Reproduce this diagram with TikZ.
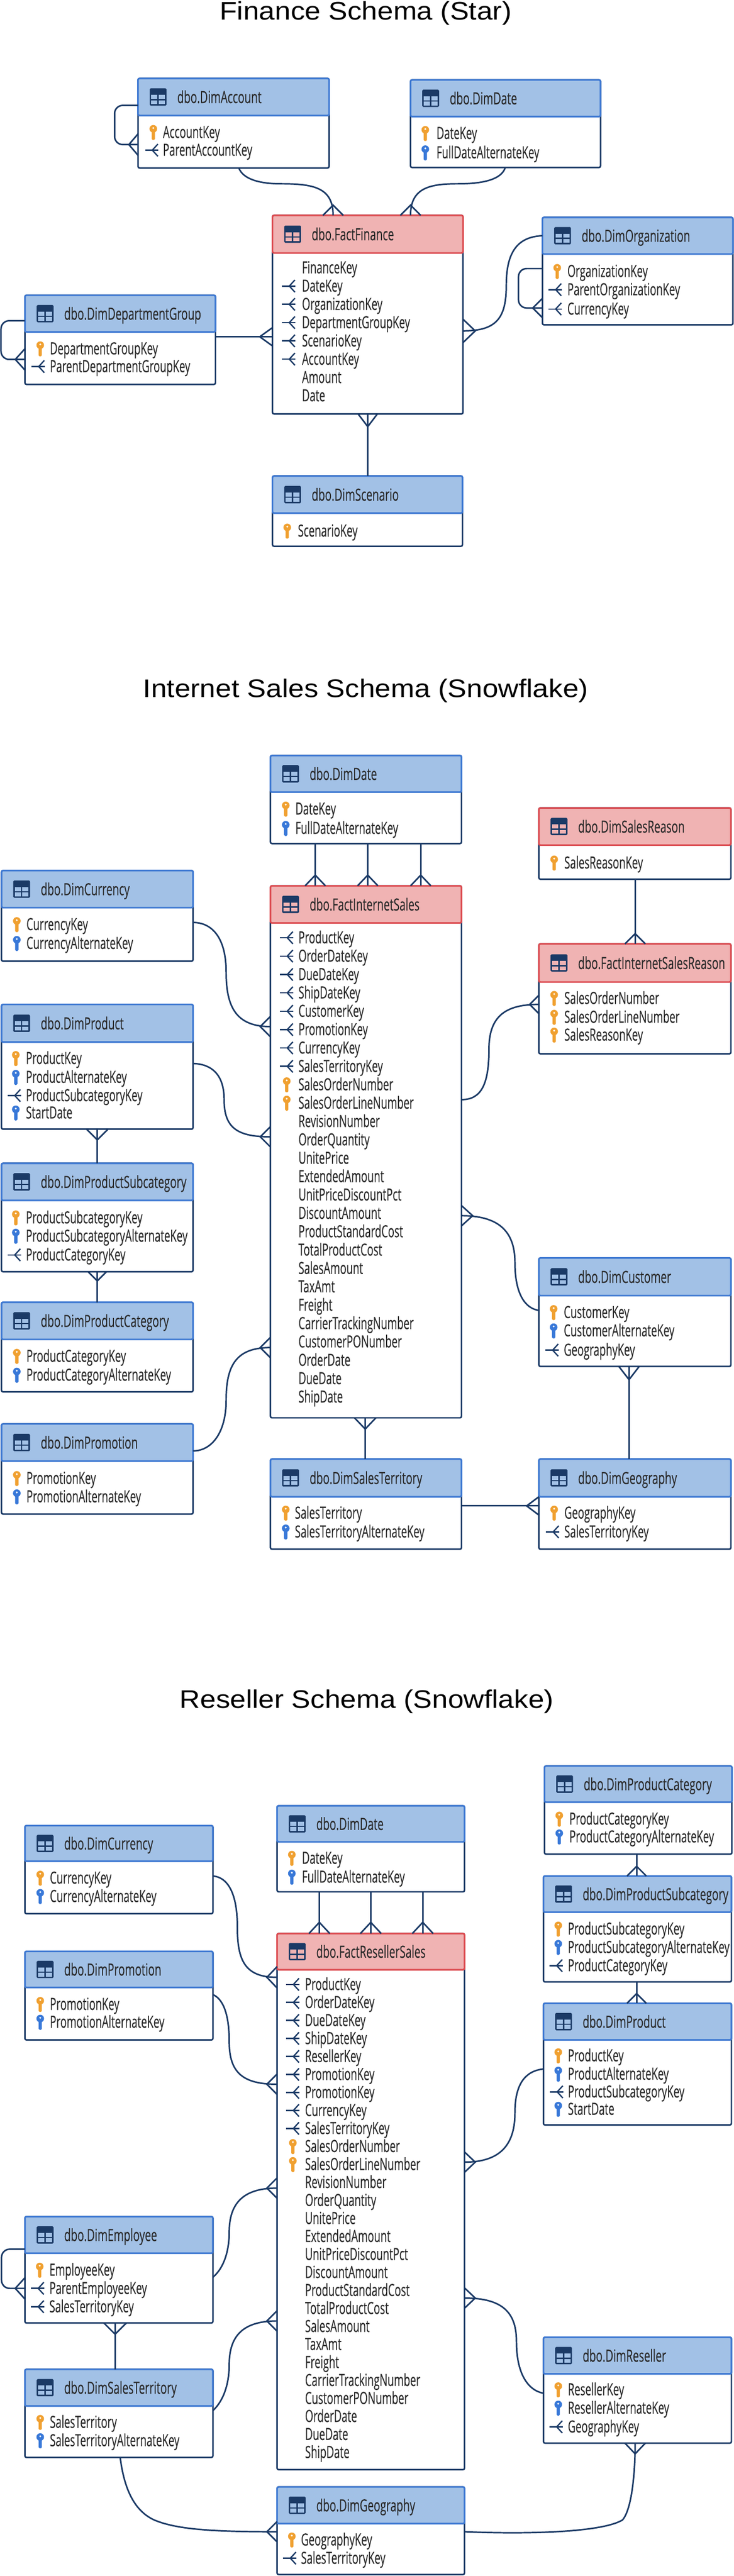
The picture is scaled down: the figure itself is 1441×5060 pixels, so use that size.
\documentclass[tikz,border=0pt]{standalone}
\usepackage{fontspec}
\setmainfont{Open Sans}
\newfontfamily\rowfont[FakeStretch=0.625,FakeBold=0.15]{Open Sans}
\newfontfamily\hdfont[FakeStretch=0.645,FakeBold=0.15]{Open Sans}
\newfontfamily\ttlfont[FakeStretch=1.115]{Liberation Sans}
\definecolor{navy}{HTML}{1B3A66}
\definecolor{hfB}{HTML}{A2C1E6}
\definecolor{hlB}{HTML}{3D78D2}
\definecolor{hfR}{HTML}{F0B3B3}
\definecolor{hlR}{HTML}{DC4B50}
\definecolor{keyO}{HTML}{F0A030}
\definecolor{keyB}{HTML}{3878D8}
\definecolor{txt}{HTML}{2A2A2A}
\tikzset{
 tbody/.style={draw=navy,line width=1.5pt,fill=white,rounded corners=1.5pt,anchor=north west,inner sep=0pt,outer sep=0pt},
 theadB/.style={draw=hlB,fill=hfB,line width=1.6pt,rounded corners=1.5pt,anchor=north west,inner sep=0pt,outer sep=0pt},
 theadR/.style={draw=hlR,fill=hfR,line width=1.6pt,rounded corners=1.5pt,anchor=north west,inner sep=0pt,outer sep=0pt},
 ttext/.style={anchor=base west,inner sep=0pt,outer sep=0pt,font=\hdfont\fontsize{16.5}{18}\selectfont,text=txt},
 rowtext/.style={anchor=base west,inner sep=0pt,outer sep=0pt,font=\rowfont\fontsize{16.5}{18}\selectfont,text=txt},
 ttl/.style={anchor=base,inner sep=0pt,font=\ttlfont\fontsize{25}{28}\selectfont,text=black},
 conn/.style={draw=navy,line width=1.5pt},
 fkline/.style={draw=navy,line width=1.3pt},
}
\newcounter{rw}
% name, colour, x0, y0, x1, headerbottom, y1, title
\newcommand\dbt[8]{%
 \pgfmathsetmacro\mytw{(#5-#3)*0.5}\pgfmathsetmacro\myth{(#7-#4)*0.5}\pgfmathsetmacro\myhb{(#6-#4)*0.5}%
 \pgfmathsetmacro\ymid{(#4+#6)/2}%
 \node[tbody,minimum width=\mytw pt,minimum height=\myth pt] (#1) at (#3,#4) {};
 \node[thead#2,minimum width=\mytw pt,minimum height=\myhb pt] (#1h) at (#3,#4) {};
 \node[ttext] (#1t) at ({#3+77},{\ymid+12}) {#8};
 \fill[navy,rounded corners=1pt] ({#3+23},{\ymid-17}) rectangle ({#3+56},{\ymid+17});
 \fill[hf#2] ({#3+26},{\ymid-4}) rectangle ({#3+38},{\ymid+4});
 \fill[hf#2] ({#3+41},{\ymid-4}) rectangle ({#3+53},{\ymid+4});
 \fill[hf#2] ({#3+26},{\ymid+6.5}) rectangle ({#3+38},{\ymid+14});
 \fill[hf#2] ({#3+41},{\ymid+6.5}) rectangle ({#3+53},{\ymid+14});
}
\newcommand\keyshape[3]{%
 \fill[#3] (#1,{#2-7}) circle (7.5);
 \fill[#3,rounded corners=1pt] ({#1-3.2},{#2-7}) rectangle ({#1+3.2},{#2+15});
 \fill[white] (#1,{#2-8.5}) circle (2);
}
\newcommand\iconk[2]{\keyshape{#1}{#2}{keyO}}
\newcommand\iconb[2]{\keyshape{#1}{#2}{keyB}}
\newcommand\iconf[2]{%
 \draw[fkline] ({#1-13},#2) -- ({#1+13},#2);
 \draw[fkline] ({#1+12},{#2-12}) -- ({#1+1},#2) -- ({#1+12},{#2+12});
}
\newcommand\iconn[2]{}
% type, iconx, textx, y, text
\newcommand\row[5]{%
 \stepcounter{rw}%
 \csname icon#1\endcsname{#2}{#4}%
 \node[rowtext] (r\therw) at (#3,{#4+11}) {#5};
}
% crow's foot meeting a horizontal edge: anchor, x, apex y, half width
\newcommand\crowv[4]{%
 \pgfmathsetmacro\xa{#2-#4}\pgfmathsetmacro\xb{#2+#4}%
 \draw[conn] (\xa,0 |- #1) -- (#2,#3) -- (\xb,0 |- #1);
}
% crow's foot meeting a vertical edge: anchor, y, apex x, half height
\newcommand\crowh[4]{%
 \pgfmathsetmacro\ya{#2-#4}\pgfmathsetmacro\yb{#2+#4}%
 \draw[conn] (0,\ya -| #1) -- (#3,#2) -- (0,\yb -| #1);
}
\begin{document}
\begin{tikzpicture}[x=0.5pt,y=-0.5pt]
\path[use as bounding box,fill=white] (0,0) rectangle (1441,5060);
\node[ttl] (title1) at (718,39) {Finance Schema (Star)};
\node[ttl] (title2) at (718,1370) {Internet Sales Schema (Snowflake)};
\node[ttl] (title3) at (720,3355) {Reseller Schema (Snowflake)};

%% ---------- Finance ----------
\dbt{aAcc}{B}{271}{154}{646}{227}{330}{dbo.DimAccount}
\row{k}{301}{320}{260}{AccountKey}
\row{f}{298}{320}{295}{ParentAccountKey}
\dbt{aDate}{B}{806}{157}{1179}{229}{329}{dbo.DimDate}
\row{k}{835}{857}{262}{DateKey}
\row{b}{835}{857}{300}{FullDateAlternateKey}
\dbt{aFact}{R}{535}{423}{909}{497}{813}{dbo.FactFinance}
\foreach \t/\k [count=\i from 0] in {FinanceKey/n,DateKey/f,OrganizationKey/f,DepartmentGroupKey/f,ScenarioKey/f,AccountKey/f,Amount/n,Date/n}{
 \pgfmathsetmacro\yy{526+35.9*\i}
 \row{\k}{567}{593}{\yy}{\t}
}
\dbt{aOrg}{B}{1065}{427}{1439}{499}{638}{dbo.DimOrganization}
\row{k}{1094}{1114}{533}{OrganizationKey}
\row{f}{1090}{1114}{569}{ParentOrganizationKey}
\row{f}{1090}{1114}{607}{CurrencyKey}
\dbt{aDept}{B}{49}{580}{423}{652}{755}{dbo.DimDepartmentGroup}
\row{k}{79}{98}{685}{DepartmentGroupKey}
\row{f}{75}{98}{720}{ParentDepartmentGroupKey}
\dbt{aScen}{B}{535}{935}{908}{1008}{1073}{dbo.DimScenario}
\row{k}{564}{585}{1043}{ScenarioKey}

\draw[conn] (469,0 |- aAcc.south) .. controls (477,352) and (510,361) .. (551,361) .. controls (615,361) and (654,368) .. (654,0 |- aFact.north);
\crowv{aFact.north}{654}{403}{20}
\draw[conn] (992,0 |- aDate.south) .. controls (985,352) and (950,361) .. (900,361) .. controls (845,361) and (806,368) .. (806,0 |- aFact.north);
\crowv{aFact.north}{806}{403}{20}
\draw[conn] (aOrgh.west |- 0,463) .. controls (1020,465) and (994,490) .. (994,560) .. controls (994,625) and (975,650) .. (0,650 -| aFact.east);
\crowh{aFact.east}{650}{933}{23}
\draw[conn] (0,661.5 -| aDept.east) -- (0,661.5 -| aFact.west);
\crowh{aFact.west}{661.5}{510}{18}
\draw[conn] (722,0 |- aScen.north) -- (722,0 |- aFact.south);
\crowv{aFact.south}{722}{838}{19}
\draw[conn,rounded corners=8pt] (0,207 -| aAcc.west) -- (225,207) -- (225,284) -- (0,284 -| aAcc.west);
\crowh{aAcc.west}{284}{253}{21}
\draw[conn,rounded corners=8pt] (0,527.5 -| aOrg.west) -- (1018,527.5) -- (1018,605) -- (0,605 -| aOrg.west);
\crowh{aOrg.west}{605}{1046}{19}
\draw[conn,rounded corners=8pt] (0,630 -| aDept.west) -- (2,630) -- (2,706) -- (0,706 -| aDept.west);
\crowh{aDept.west}{706}{30}{21}

%% ---------- Internet sales ----------
\dbt{bDate}{B}{531}{1484}{906}{1556}{1657}{dbo.DimDate}
\row{k}{561}{580}{1589}{DateKey}
\row{b}{561}{580}{1627}{FullDateAlternateKey}
\dbt{bReason}{R}{1058}{1587}{1435}{1660}{1727}{dbo.DimSalesReason}
\row{k}{1088}{1108}{1695}{SalesReasonKey}
\dbt{bCur}{B}{3}{1710}{379}{1783}{1888}{dbo.DimCurrency}
\row{k}{33}{52}{1816}{CurrencyKey}
\row{b}{33}{52}{1853}{CurrencyAlternateKey}
\dbt{bFact}{R}{531}{1740}{906}{1813}{2785}{dbo.FactInternetSales}
\foreach \t/\k [count=\i from 0] in {ProductKey/f,OrderDateKey/f,DueDateKey/f,ShipDateKey/f,CustomerKey/f,PromotionKey/f,CurrencyKey/f,SalesTerritoryKey/f,SalesOrderNumber/k,SalesOrderLineNumber/k,RevisionNumber/n,OrderQuantity/n,UnitePrice/n,ExtendedAmount/n,UnitPriceDiscountPct/n,DiscountAmount/n,ProductStandardCost/n,TotalProductCost/n,SalesAmount/n,TaxAmt/n,Freight/n,CarrierTrackingNumber/n,CustomerPONumber/n,OrderDate/n,DueDate/n,ShipDate/n}{
 \pgfmathsetmacro\yy{1842+36.08*\i}
 \row{\k}{563}{586}{\yy}{\t}
}
\dbt{bFR}{R}{1058}{1854}{1435}{1929}{2070}{dbo.FactInternetSalesReason}
\row{k}{1088}{1108}{1961}{SalesOrderNumber}
\row{k}{1088}{1108}{1998}{SalesOrderLineNumber}
\row{k}{1088}{1108}{2033}{SalesReasonKey}
\dbt{bProd}{B}{3}{1973}{379}{2047}{2218}{dbo.DimProduct}
\row{k}{31}{51}{2079}{ProductKey}
\row{b}{31}{51}{2116}{ProductAlternateKey}
\row{f}{28}{51}{2152}{ProductSubcategoryKey}
\row{b}{31}{51}{2186}{StartDate}
\dbt{bSub}{B}{3}{2285}{379}{2358}{2498}{dbo.DimProductSubcategory}
\row{k}{31}{51}{2392}{ProductSubcategoryKey}
\row{b}{31}{51}{2428}{ProductSubcategoryAlternateKey}
\row{f}{28}{51}{2465}{ProductCategoryKey}
\dbt{bCat}{B}{3}{2558}{379}{2631}{2734}{dbo.DimProductCategory}
\row{k}{33}{52}{2664}{ProductCategoryKey}
\row{b}{33}{52}{2701}{ProductCategoryAlternateKey}
\dbt{bPromo}{B}{3}{2797}{379}{2870}{2974}{dbo.DimPromotion}
\row{k}{33}{52}{2904}{PromotionKey}
\row{b}{33}{52}{2940}{PromotionAlternateKey}
\dbt{bTerr}{B}{531}{2866}{906}{2940}{3043}{dbo.DimSalesTerritory}
\row{k}{561}{579}{2972}{SalesTerritory}
\row{b}{561}{579}{3009}{SalesTerritoryAlternateKey}
\dbt{bGeo}{B}{1058}{2866}{1435}{2940}{3043}{dbo.DimGeography}
\row{k}{1088}{1108}{2972}{GeographyKey}
\row{f}{1085}{1108}{3009}{SalesTerritoryKey}
\dbt{bCust}{B}{1058}{2471}{1435}{2545}{2684}{dbo.DimCustomer}
\row{k}{1087}{1107}{2578}{CustomerKey}
\row{b}{1087}{1107}{2614}{CustomerAlternateKey}
\row{f}{1084}{1107}{2652}{GeographyKey}

\foreach \xx in {619,722,826}{
 \draw[conn] (\xx,0 |- bDate.south) -- (\xx,0 |- bFact.north);
 \crowv{bFact.north}{\xx}{1719}{20}
}
\draw[conn] (1247,0 |- bReason.south) -- (1247,0 |- bFR.north);
\crowv{bFR.north}{1247}{1834}{20}
\draw[conn] (0,1812 -| bCur.east) .. controls (415,1812) and (444,1840) .. (444,1910) .. controls (444,1980) and (465,2016.5) .. (0,2016.5 -| bFact.west);
\crowh{bFact.west}{2016.5}{511}{20}
\draw[conn] (0,2089 -| bProd.east) .. controls (415,2090) and (440,2110) .. (440,2160) .. controls (440,2215) and (465,2233) .. (0,2233 -| bFact.west);
\crowh{bFact.west}{2233}{511}{20}
\draw[conn] (191,0 |- bProd.south) -- (191,0 |- bSub.north);
\crowv{bProd.south}{191}{2239}{21}
\draw[conn] (191,0 |- bSub.south) -- (191,0 |- bCat.north);
\crowv{bSub.south}{191}{2516}{18}
\draw[conn] (0,2850 -| bPromo.east) .. controls (415,2850) and (444,2815) .. (444,2750) .. controls (444,2680) and (465,2647) .. (0,2647 -| bFact.west);
\crowh{bFact.west}{2647}{511}{20}
\draw[conn] (717,0 |- bTerr.north) -- (717,0 |- bFact.south);
\crowv{bFact.south}{717}{2807}{21}
\draw[conn] (0,2388 -| bFact.east) .. controls (975,2388) and (1011,2415) .. (1011,2480) .. controls (1011,2540) and (1030,2570) .. (0,2574 -| bCust.west);
\crowh{bFact.east}{2388}{928}{20}
\draw[conn] (0,1973 -| bFR.west) .. controls (1000,1973) and (960,1990) .. (960,2060) .. controls (960,2130) and (945,2160) .. (0,2160 -| bFact.east);
\crowh{bFR.west}{1973}{1040}{18}
\draw[conn] (1235,0 |- bCust.south) -- (1235,0 |- bGeo.north);
\crowv{bCust.south}{1235}{2710}{20}
\draw[conn] (0,2958 -| bTerr.east) -- (0,2958 -| bGeo.west);
\crowh{bGeo.west}{2958}{1034}{18}

%% ---------- Reseller ----------
\dbt{cCur}{B}{49}{3586}{418}{3656}{3759}{dbo.DimCurrency}
\row{k}{79}{98}{3689}{CurrencyKey}
\row{b}{79}{98}{3725}{CurrencyAlternateKey}
\dbt{cPromo}{B}{49}{3833}{418}{3904}{4007}{dbo.DimPromotion}
\row{k}{79}{98}{3937}{PromotionKey}
\row{b}{79}{98}{3972}{PromotionAlternateKey}
\dbt{cDate}{B}{544}{3547}{912}{3618}{3716}{dbo.DimDate}
\row{k}{573}{593}{3650}{DateKey}
\row{b}{573}{593}{3687}{FullDateAlternateKey}
\dbt{cFact}{R}{544}{3798}{912}{3869}{4851}{dbo.FactResellerSales}
\foreach \t/\k [count=\i from 0] in {ProductKey/f,OrderDateKey/f,DueDateKey/f,ShipDateKey/f,ResellerKey/f,PromotionKey/f,PromotionKey/f,CurrencyKey/f,SalesTerritoryKey/f,SalesOrderNumber/k,SalesOrderLineNumber/k,RevisionNumber/n,OrderQuantity/n,UnitePrice/n,ExtendedAmount/n,UnitPriceDiscountPct/n,DiscountAmount/n,ProductStandardCost/n,TotalProductCost/n,SalesAmount/n,TaxAmt/n,Freight/n,CarrierTrackingNumber/n,CustomerPONumber/n,OrderDate/n,DueDate/n,ShipDate/n}{
 \pgfmathsetmacro\yy{3898+35.35*\i}
 \row{\k}{575}{599}{\yy}{\t}
}
\dbt{cCat}{B}{1069}{3469}{1437}{3540}{3642}{dbo.DimProductCategory}
\row{k}{1098}{1118}{3573}{ProductCategoryKey}
\row{b}{1098}{1118}{3608}{ProductCategoryAlternateKey}
\dbt{cSub}{B}{1067}{3685}{1436}{3756}{3893}{dbo.DimProductSubcategory}
\row{k}{1096}{1115}{3789}{ProductSubcategoryKey}
\row{b}{1096}{1115}{3825}{ProductSubcategoryAlternateKey}
\row{f}{1092}{1115}{3861}{ProductCategoryKey}
\dbt{cProd}{B}{1067}{3935}{1436}{4007}{4174}{dbo.DimProduct}
\row{k}{1096}{1115}{4038}{ProductKey}
\row{b}{1096}{1115}{4074}{ProductAlternateKey}
\row{f}{1093}{1115}{4109}{ProductSubcategoryKey}
\row{b}{1096}{1115}{4143}{StartDate}
\dbt{cEmp}{B}{49}{4354}{418}{4426}{4563}{dbo.DimEmployee}
\row{k}{78}{97}{4459}{EmployeeKey}
\row{f}{74}{97}{4495}{ParentEmployeeKey}
\row{f}{74}{97}{4531}{SalesTerritoryKey}
\dbt{cTerr}{B}{49}{4654}{418}{4726}{4827}{dbo.DimSalesTerritory}
\row{k}{79}{98}{4758}{SalesTerritory}
\row{b}{79}{98}{4794}{SalesTerritoryAlternateKey}
\dbt{cRes}{B}{1067}{4591}{1436}{4663}{4799}{dbo.DimReseller}
\row{k}{1096}{1115}{4694}{ResellerKey}
\row{b}{1096}{1115}{4730}{ResellerAlternateKey}
\row{f}{1092}{1115}{4767}{GeographyKey}
\dbt{cGeo}{B}{544}{4885}{912}{4957}{5057}{dbo.DimGeography}
\row{k}{573}{591}{4989}{GeographyKey}
\row{f}{569}{591}{5025}{SalesTerritoryKey}

\foreach \xx in {627,728,830}{
 \draw[conn] (\xx,0 |- cDate.south) -- (\xx,0 |- cFact.north);
 \crowv{cFact.north}{\xx}{3776}{20.5}
}
\draw[conn] (0,3685 -| cCur.east) .. controls (445,3687) and (466,3715) .. (466,3785) .. controls (466,3850) and (480,3884) .. (0,3884 -| cFact.west);
\crowh{cFact.west}{3884}{524}{21}
\draw[conn] (0,3918 -| cPromo.east) .. controls (435,3925) and (450,3950) .. (450,4010) .. controls (450,4070) and (475,4094) .. (0,4094 -| cFact.west);
\crowh{cFact.west}{4094}{524}{20}
\draw[conn] (0,4473 -| cEmp.east) .. controls (440,4455) and (450,4420) .. (450,4385) .. controls (450,4330) and (475,4298) .. (0,4298 -| cFact.west);
\crowh{cFact.west}{4298}{524}{20}
\draw[conn] (0,4735 -| cTerr.east) .. controls (440,4715) and (450,4680) .. (450,4645) .. controls (450,4590) and (475,4559) .. (0,4559 -| cFact.west);
\crowh{cFact.west}{4559}{524}{20}
\draw[conn] (0,4064 -| cProd.west) .. controls (1030,4068) and (1011,4095) .. (1011,4150) .. controls (1011,4210) and (985,4247) .. (0,4247 -| cFact.east);
\crowh{cFact.east}{4247}{933}{20}
\draw[conn] (0,4701 -| cRes.west) .. controls (1035,4695) and (1014,4660) .. (1014,4600) .. controls (1014,4545) and (990,4514) .. (0,4514 -| cFact.east);
\crowh{cFact.east}{4514}{933}{20}
\draw[conn] (1250,0 |- cCat.south) -- (1250,0 |- cSub.north);
\crowv{cSub.north}{1250}{3666}{19}
\draw[conn] (1250,0 |- cSub.south) -- (1250,0 |- cProd.north);
\crowv{cProd.north}{1250}{3916}{19}
\draw[conn] (226,0 |- cEmp.south) -- (226,0 |- cTerr.north);
\crowv{cEmp.south}{226}{4585}{22}
\draw[conn,rounded corners=8pt] (0,4418 -| cEmp.west) -- (3,4418) -- (3,4495) -- (0,4495 -| cEmp.west);
\crowh{cEmp.west}{4495}{30}{21}
\draw[conn] (236,0 |- cTerr.south) .. controls (245,4900) and (270,4935) .. (303,4950) .. controls (350,4970) and (430,4973) .. (0,4973 -| cGeo.west);
\crowh{cGeo.west}{4973}{524}{20}
\draw[conn] (0,4973 -| cGeo.east) .. controls (1030,4978) and (1180,4975) .. (1222,4950) .. controls (1240,4930) and (1247,4860) .. (1247,0 |- cRes.south);
\crowv{cRes.south}{1247}{4820}{20}
\end{tikzpicture}
\end{document}
